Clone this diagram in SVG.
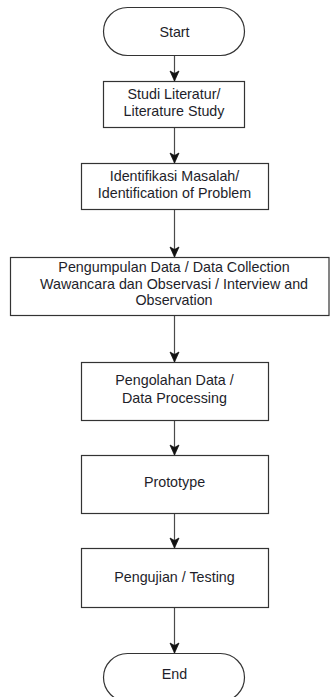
<svg xmlns="http://www.w3.org/2000/svg" width="330" height="697" viewBox="0 0 330 697">
  <style>
    .shape { fill: #ffffff; stroke: #333333; stroke-width: 1.2; }
    .label { font-family: "Liberation Sans", Arial, sans-serif; font-size: 14.3px; fill: #1e1e2a; text-anchor: middle; }
    .conn { stroke: #4a4a4a; stroke-width: 1.2; fill: none; marker-end: url(#arrow); }
  </style>
  <defs>
    <marker id="arrow" markerUnits="userSpaceOnUse" markerWidth="12" markerHeight="12" viewBox="0 0 12 12" refX="11" refY="6" orient="auto">
      <path d="M1,1.5 L11,6 L1,10.5 L3.5,6 Z" fill="#111111" stroke="#111111" stroke-width="0.8"/>
    </marker>
  </defs>
  <rect width="330" height="697" fill="#ffffff"/>

  <g id="connectors">
    <line class="conn" x1="174.5" y1="55" x2="174.5" y2="81"/>
    <line class="conn" x1="174.5" y1="127" x2="174.5" y2="163"/>
    <line class="conn" x1="174.5" y1="209" x2="174.5" y2="257"/>
    <line class="conn" x1="174.5" y1="315" x2="174.5" y2="362"/>
    <line class="conn" x1="174.5" y1="420" x2="174.5" y2="455"/>
    <line class="conn" x1="174.5" y1="513" x2="174.5" y2="548"/>
    <line class="conn" x1="174.5" y1="607" x2="174.5" y2="653"/>
  </g>

  <g id="start">
    <rect class="shape" x="103.5" y="7.5" width="141" height="48" rx="24" ry="24"/>
    <text class="label" x="174.5" y="37">Start</text>
  </g>

  <g id="studi-literatur">
    <rect class="shape" x="103.5" y="81.5" width="141" height="46"/>
    <text class="label" x="174" y="98.5">Studi Literatur/</text>
    <text class="label" x="174" y="116">Literature Study</text>
  </g>

  <g id="identifikasi">
    <rect class="shape" x="81.5" y="163.5" width="187" height="46"/>
    <text class="label" x="174.5" y="181">Identifikasi Masalah/</text>
    <text class="label" x="174.5" y="198">Identification of Problem</text>
  </g>

  <g id="pengumpulan">
    <rect class="shape" x="10.5" y="257.5" width="318.5" height="58"/>
    <text class="label" x="174" y="272">Pengumpulan Data / Data Collection</text>
    <text class="label" x="174" y="288.5">Wawancara dan Observasi / Interview and</text>
    <text class="label" x="174" y="305">Observation</text>
  </g>

  <g id="pengolahan">
    <rect class="shape" x="81.5" y="362.5" width="187" height="58"/>
    <text class="label" x="174.5" y="385">Pengolahan Data /</text>
    <text class="label" x="174.5" y="402.5">Data Processing</text>
  </g>

  <g id="prototype">
    <rect class="shape" x="81.5" y="455.5" width="187" height="58"/>
    <text class="label" x="174.5" y="487">Prototype</text>
  </g>

  <g id="pengujian">
    <rect class="shape" x="81.5" y="548.5" width="187" height="59"/>
    <text class="label" x="174.5" y="582">Pengujian / Testing</text>
  </g>

  <g id="end">
    <rect class="shape" x="103.5" y="653.5" width="141" height="48" rx="24" ry="24"/>
    <text class="label" x="174.5" y="679">End</text>
  </g>
</svg>
